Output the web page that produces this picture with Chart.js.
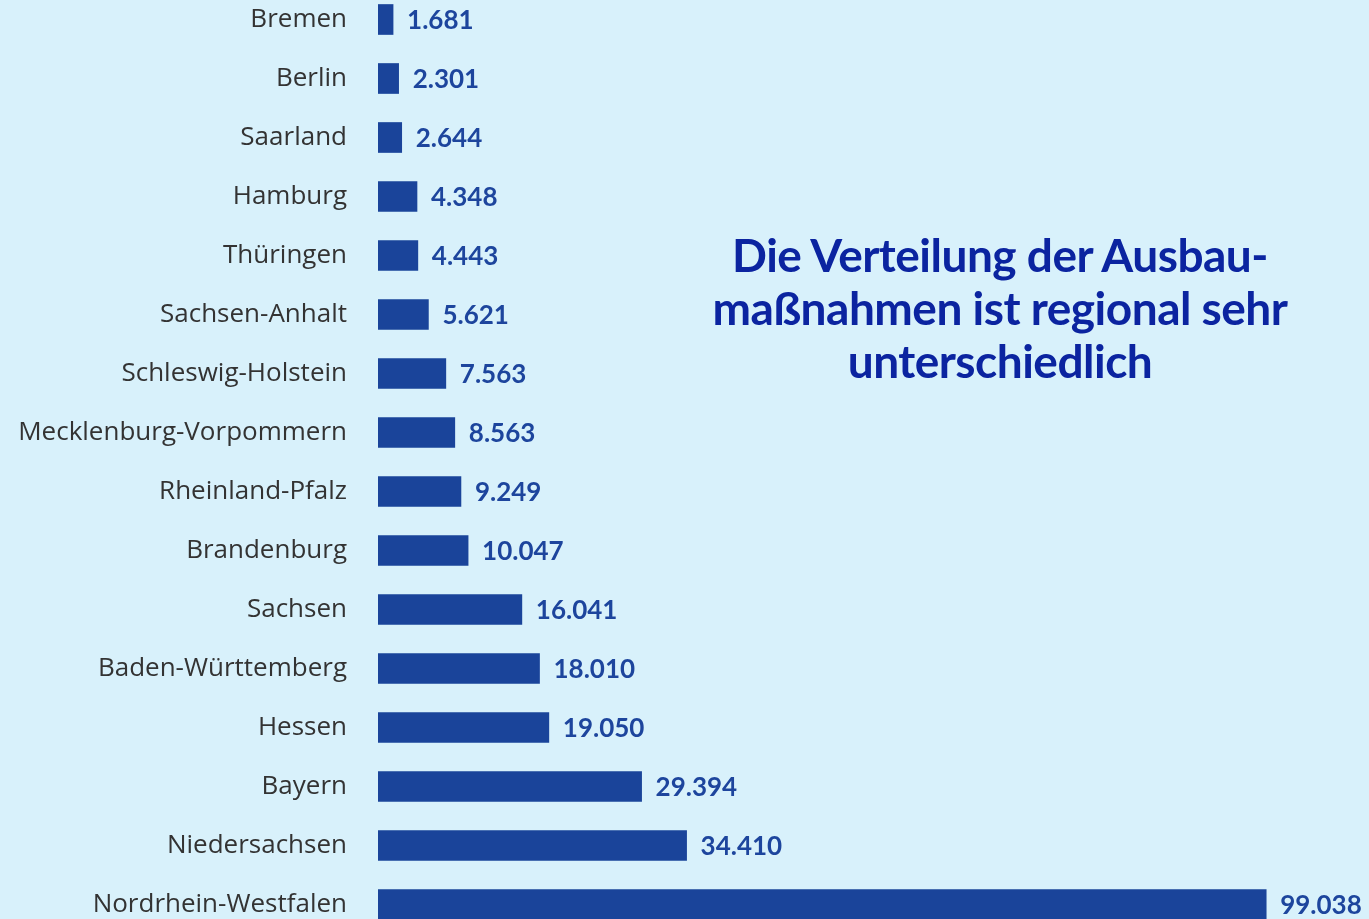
<!DOCTYPE html>
<html>
<head>
<meta charset="utf-8">
<script src="https://cdn.jsdelivr.net/npm/chart.js@4"></script>
<style>
  html, body { margin: 0; padding: 0; background: #d8f1fb; overflow: hidden; }
  #chart { position: absolute; left: 0; top: -10px; }
  #title {
    position: absolute; left: 650px; top: 228px; width: 700px;
    text-align: center; font-family: Lato, "Noto Sans", sans-serif; font-weight: 700;
    font-size: 46px; line-height: 53px; color: #0b24a0; letter-spacing: -0.5px;
  }
</style>
</head>
<body>
<canvas id="chart" width="1369" height="944"></canvas>
<div id="title">Die Verteilung der Ausbau-<br>maßnahmen ist regional sehr<br>unterschiedlich</div>
<script>
const states = ['Bremen', 'Berlin', 'Saarland', 'Hamburg', 'Thüringen', 'Sachsen-Anhalt',
  'Schleswig-Holstein', 'Mecklenburg-Vorpommern', 'Rheinland-Pfalz', 'Brandenburg',
  'Sachsen', 'Baden-Württemberg', 'Hessen', 'Bayern', 'Niedersachsen', 'Nordrhein-Westfalen'];
const measures = [1681, 2301, 2644, 4348, 4443, 5621, 7563, 8563, 9249, 10047,
  16041, 18010, 19050, 29394, 34410, 99038];

function formatDE(n) {
  return String(n).replace(/\B(?=(\d{3})+(?!\d))/g, '.');
}

// value labels next to each bar
const valueLabels = {
  id: 'valueLabels',
  afterDatasetsDraw(chart) {
    const ctx = chart.ctx;
    const meta = chart.getDatasetMeta(0);
    ctx.save();
    ctx.font = 'bold 26px Lato, "Noto Sans", sans-serif';
    ctx.fillStyle = '#1d459d';
    ctx.textBaseline = 'middle';
    ctx.textAlign = 'left';
    meta.data.forEach((bar, i) => {
      ctx.fillText(formatDE(measures[i]), bar.x + 14, bar.y + 1);
    });
    ctx.restore();
  }
};

new Chart(document.getElementById('chart'), {
  type: 'bar',
  data: {
    labels: states,
    datasets: [{
      data: measures,
      backgroundColor: '#1a449a',
      barThickness: 30
    }]
  },
  options: {
    indexAxis: 'y',
    responsive: false,
    animation: false,
    layout: { padding: 0 },
    plugins: { legend: { display: false }, tooltip: { enabled: false } },
    scales: {
      x: {
        min: 0, max: 110500,
        display: false
      },
      y: {
        grid: { display: false, drawTicks: false },
        border: { display: false },
        afterFit(scale) {
          scale.width = 378;
          scale.paddingTop = 0;
          scale.paddingBottom = 0;
        },
        ticks: {
          padding: 31,
          color: '#333333',
          font: { family: '"Open Sans", "Noto Sans", sans-serif', size: 26 }
        }
      }
    }
  },
  plugins: [valueLabels]
});
</script>
</body>
</html>
